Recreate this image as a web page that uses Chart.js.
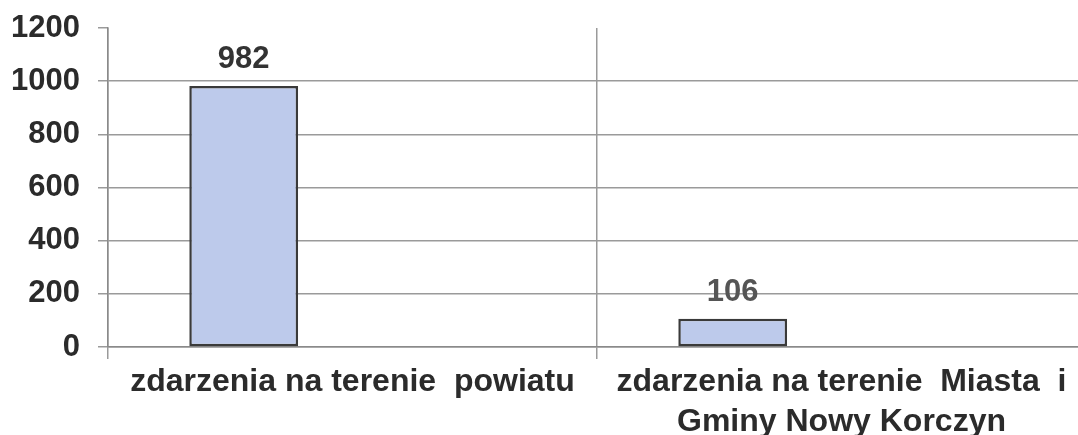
<!DOCTYPE html>
<html>
<head>
<meta charset="utf-8">
<script src="https://cdn.jsdelivr.net/npm/chart.js@4.4.0/dist/chart.umd.min.js"></script>
<style>
  html, body { margin: 0; padding: 0; background: #fff; overflow: hidden; }
  #wrap { width: 1086px; height: 435px; position: relative; }
</style>
</head>
<body>
<div id="wrap"><canvas id="c"></canvas></div>
<script>
const categories = [
  ["zdarzenia na terenie  powiatu"],
  ["zdarzenia na terenie  Miasta  i", "Gminy Nowy Korczyn"]
];
const values = [982, 106];
const emptySeries = [null, null];
const yMin = 0;
const yMax = 1200;
const yStep = 200;

const FONT = "'Liberation Sans', Arial, sans-serif";

const valueLabels = {
  id: 'valueLabels',
  afterDatasetsDraw(chart) {
    const ctx = chart.ctx;
    const meta = chart.getDatasetMeta(0);
    const colors = ['#333333', '#555555'];
    ctx.save();
    ctx.font = "bold 31px " + FONT;
    ctx.textAlign = 'center';
    ctx.textBaseline = 'alphabetic';
    meta.data.forEach((bar, i) => {
      ctx.fillStyle = colors[i % colors.length];
      ctx.fillText(String(values[i]), bar.x, bar.y - 18);
    });
    ctx.restore();
  }
};

new Chart(document.getElementById('c'), {
  type: 'bar',
  data: {
    labels: categories,
    datasets: [
      {
        data: values,
        backgroundColor: '#bdcaeb',
        borderColor: '#3a3a3a',
        borderWidth: 2.5,
        borderSkipped: false,
        categoryPercentage: 0.89,
        barPercentage: 0.5
      },
      {
        data: emptySeries,
        backgroundColor: '#bdcaeb',
        categoryPercentage: 0.89,
        barPercentage: 0.5
      }
    ]
  },
  options: {
    responsive: true,
    maintainAspectRatio: false,
    animation: false,
    layout: { padding: { top: 28, left: 0, right: 0, bottom: 0 } },
    plugins: {
      legend: { display: false },
      tooltip: { enabled: false }
    },
    scales: {
      x: {
        offset: true,
        grid: {
          display: true,
          offset: true,
          color: '#9a9a9a',
          lineWidth: 1.5,
          drawTicks: true,
          tickLength: 12
        },
        border: { display: true, color: '#8a8a8a', width: 1.5 },
        ticks: {
          color: '#2b2b2b',
          font: { family: FONT, size: 32, weight: 'bold', lineHeight: 1.25 },
          padding: 3,
          maxRotation: 0,
          autoSkip: false
        },
        afterFit(scale) { scale.height = 88; }
      },
      y: {
        min: yMin,
        max: yMax,
        ticks: {
          stepSize: yStep,
          color: '#2b2b2b',
          font: { family: FONT, size: 31, weight: 'bold', lineHeight: 0.5 },
          padding: 18,
          callback: (v) => String(v)
        },
        grid: {
          color: (ctx) => (ctx.tick && ctx.tick.value === yMax) ? 'rgba(0,0,0,0)' : '#9a9a9a',
          tickColor: '#9a9a9a',
          lineWidth: 1.5,
          drawTicks: true,
          tickLength: 10
        },
        border: { display: true, color: '#8a8a8a', width: 1.5 },
        afterFit(scale) { scale.width = 108; }
      }
    }
  },
  plugins: [valueLabels]
});
</script>
</body>
</html>
